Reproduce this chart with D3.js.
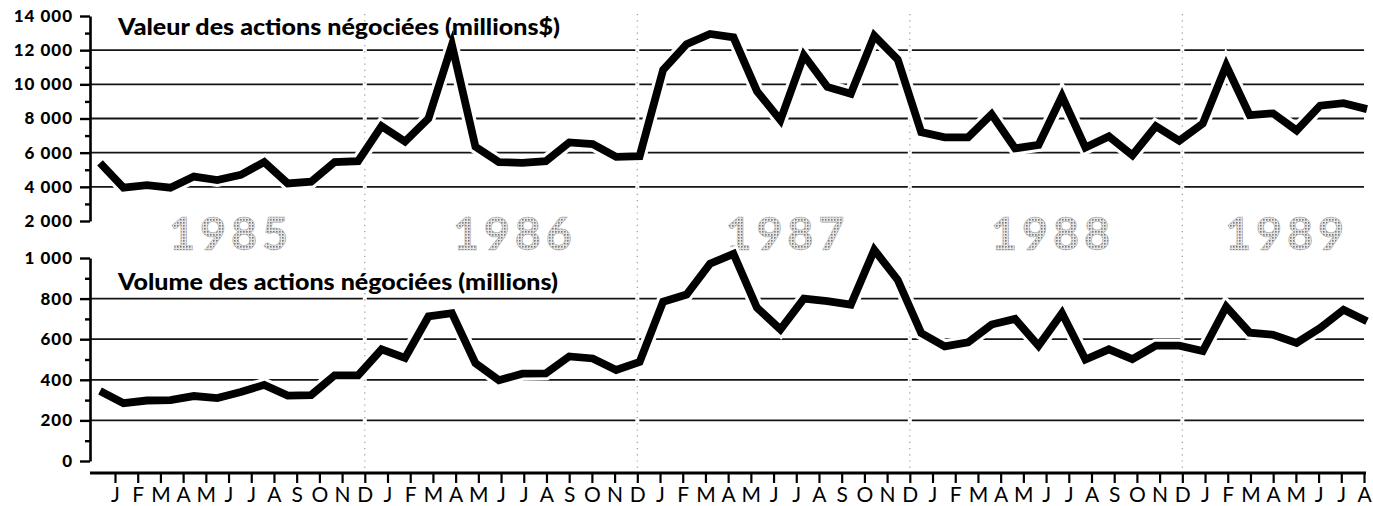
<!DOCTYPE html>
<html><head><meta charset="utf-8">
<script src="https://cdn.jsdelivr.net/npm/d3@7"></script>
<style>
html,body{margin:0;padding:0;background:#fff;}
svg{display:block;}
</style></head><body>
<svg id="chart" width="1373" height="506"></svg>
<script>
// ---------- data ----------
const years = ["1985", "1986", "1987", "1988", "1989"];
// month offset (in tick units) where each year label is centred
const yearAnchor = [5.0, 17.5, 29.5, 41.2, 51.5];
// tick labels along the month axis (J 1985 ... A 1989)
const monthLetters = [
  "J","F","M","A","M","J","J","A","S","O","N","D",
  "J","F","M","A","M","J","J","A","S","O","N","D",
  "J","F","M","A","M","J","J","A","S","O","N","D",
  "J","F","M","A","M","J","J","A","S","O","N","D",
  "J","F","M","A","M","J","J","A"
];
// Valeur des actions négociées (millions $), monthly from Jan 1985
const valeur = [
  5400, 3950, 4100, 3950, 4600, 4400, 4700, 5450, 4200, 4300, 5450, 5500,
  7550, 6650, 8000, 12300, 6350, 5450, 5400, 5500, 6600, 6500, 5750, 5800,
  10850, 12350, 12950, 12750, 9600, 7900, 11700, 9850, 9450, 12850, 11450, 7200,
  6900, 6900, 8250, 6250, 6450, 9300, 6300, 6950, 5850, 7550, 6700, 7700,
  11100, 8200, 8300, 7300, 8750, 8900, 8550
];
// Volume des actions négociées (millions), monthly from Jan 1985
const volume = [
  345, 285, 298, 300, 320, 310, 340, 375, 322, 325, 422, 422,
  550, 508, 712, 728, 482, 398, 430, 432, 515, 505, 448, 488,
  785, 820, 972, 1020, 755, 648, 800, 788, 770, 1040, 892, 630,
  565, 585, 672, 700, 568, 728, 500, 550, 502, 568, 568, 542,
  760, 632, 622, 582, 655, 745, 688
];
const months = valeur.map((_, i) => `${1985 + Math.floor(i / 12)}-${String(i % 12 + 1).padStart(2, "0")}`);
const yTicksValeur = [2000, 4000, 6000, 8000, 10000, 12000, 14000];
const yMinorValeur = [3000, 5000, 7000, 9000, 11000, 13000];
const yGridValeur = [4000, 6000, 8000, 10000, 12000];
const yTicksVolume = [0, 200, 400, 600, 800, 1000];
const yMinorVolume = [100, 300, 500, 700, 900];
const yGridVolume = [200, 400, 600, 800];
const titleValeur = "Valeur des actions négociées (millions$)";
const titleVolume = "Volume des actions négociées (millions)";

// ---------- layout ----------
const axisX = 90, gridRight = 1364;
const xAxisY = 473;
const svg = d3.select("#chart");
const FONT = "Lato, 'DejaVu Sans', sans-serif";

const fr = d3.formatLocale({decimal: ",", thousands: " ", grouping: [3], currency: ["", "$"]});
const fmt = fr.format(",d");

const x = d3.scalePoint().domain(months).range([100, 1367]);
const tickIdx = d3.range(monthLetters.length);
const xTick = d3.scalePoint().domain(tickIdx).range([115, 1364]);
const xTickLin = d3.scaleLinear().domain([0, monthLetters.length - 1]).range([115, 1364]);

const yTop = d3.scaleLinear().domain([2000, 14000]).range([221, 16]);
const yBot = d3.scaleLinear().domain([0, 1000]).range([461, 258]);

// halftone pattern for the year labels
const defs = svg.append("defs");
const pat = defs.append("pattern").attr("id", "ht").attr("width", 3).attr("height", 3)
  .attr("patternUnits", "userSpaceOnUse");
pat.append("rect").attr("width", 3).attr("height", 3).attr("fill", "#e4e4e4");
pat.append("rect").attr("width", 1.6).attr("height", 1.6).attr("fill", "#7a7a7a");

// gridlines
function grid(vals, y) {
  svg.append("g").selectAll("line").data(vals).join("line")
    .attr("x1", axisX).attr("x2", gridRight)
    .attr("y1", d => y(d)).attr("y2", d => y(d))
    .attr("stroke", "#151515").attr("stroke-width", 1.8);
}
grid(yGridValeur, yTop);
grid(yGridVolume, yBot);

// year separators (at each December tick)
const sepIdx = [11, 23, 35, 47];
const sep = svg.append("g");
sep.selectAll("line.bg").data(sepIdx).join("line").attr("class", "bg")
  .attr("x1", d => xTick(d)).attr("x2", d => xTick(d)).attr("y1", 14).attr("y2", 470)
  .attr("stroke", "#fff").attr("stroke-width", 4);
sep.selectAll("line.fg").data(sepIdx).join("line").attr("class", "fg")
  .attr("x1", d => xTick(d)).attr("x2", d => xTick(d)).attr("y1", 14).attr("y2", 470)
  .attr("stroke", "#999").attr("stroke-width", 1.2).attr("stroke-dasharray", "1.2 5");

// year labels
svg.append("g").selectAll("text").data(years).join("text")
  .attr("x", (d, i) => xTickLin(yearAnchor[i]))
  .attr("y", 250)
  .attr("text-anchor", "middle")
  .attr("font-family", FONT).attr("font-weight", 700).attr("font-size", 45)
  .attr("textLength", 119).attr("lengthAdjust", "spacing")
  .attr("fill", "url(#ht)").attr("stroke", "#b0b0b0").attr("stroke-width", 0.6)
  .text(d => d);

// y axes
function yAxis(scale, major, minor) {
  const g = svg.append("g").attr("transform", `translate(${axisX},0)`);
  g.call(d3.axisLeft(scale).tickValues(major).tickFormat(fmt).tickSize(10).tickSizeOuter(0).tickPadding(7));
  g.select(".domain").attr("stroke", "#000").attr("stroke-width", 2.6);
  g.selectAll(".tick line").attr("stroke", "#000").attr("stroke-width", 2.4);
  g.selectAll(".tick text").attr("font-family", FONT).attr("font-weight", 900)
    .attr("font-size", 17).attr("fill", "#000").attr("letter-spacing", "1px");
  const m = svg.append("g").attr("transform", `translate(${axisX},0)`);
  m.call(d3.axisLeft(scale).tickValues(minor).tickFormat("").tickSize(5).tickSizeOuter(0));
  m.select(".domain").remove();
  m.selectAll(".tick line").attr("stroke", "#000").attr("stroke-width", 2.4);
}
yAxis(yTop, yTicksValeur, yMinorValeur);
yAxis(yBot, yTicksVolume, yMinorVolume);

// x axis
svg.append("line").attr("x1", axisX).attr("x2", 1366).attr("y1", xAxisY).attr("y2", xAxisY)
  .attr("stroke", "#000").attr("stroke-width", 2.8);
const gx = svg.append("g").attr("transform", `translate(0,${xAxisY})`);
gx.call(d3.axisBottom(xTick).tickFormat(i => monthLetters[i]).tickSize(10).tickPadding(4));
gx.select(".domain").remove();
gx.selectAll(".tick line").attr("stroke", "#000").attr("stroke-width", 2.2);
gx.selectAll(".tick text").attr("font-family", FONT).attr("font-weight", 400)
  .attr("font-size", 21).attr("fill", "#000");

// data lines
function series(vals, y) {
  const line = d3.line().x((d, i) => x(months[i])).y(d => y(d));
  svg.append("path").datum(vals).attr("d", line).attr("fill", "none")
    .attr("stroke", "#fff").attr("stroke-width", 14).attr("stroke-linejoin", "miter");
  svg.append("path").datum(vals).attr("d", line).attr("fill", "none")
    .attr("stroke", "#000").attr("stroke-width", 7.8).attr("stroke-linejoin", "miter")
    .attr("stroke-miterlimit", 6);
}
series(valeur, yTop);
series(volume, yBot);

// titles
svg.append("text").attr("x", 118).attr("y", 35)
  .attr("font-family", FONT).attr("font-weight", 900).attr("font-size", 22)
  .attr("textLength", 442).attr("lengthAdjust", "spacingAndGlyphs")
  .text(titleValeur);
svg.append("text").attr("x", 118).attr("y", 290)
  .attr("font-family", FONT).attr("font-weight", 900).attr("font-size", 22)
  .attr("textLength", 440).attr("lengthAdjust", "spacingAndGlyphs")
  .text(titleVolume);
</script>
</body></html>
